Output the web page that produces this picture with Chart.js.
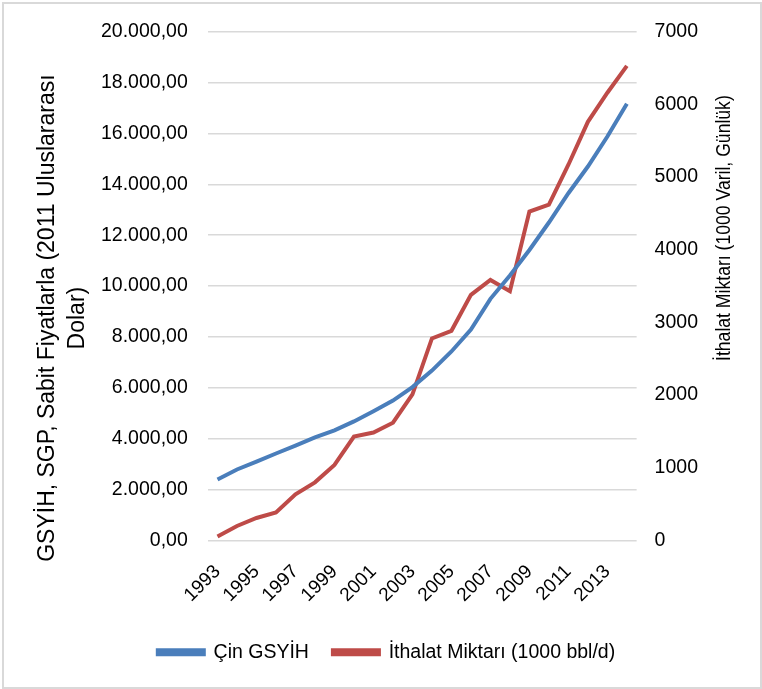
<!DOCTYPE html>
<html>
<head>
<meta charset="utf-8">
<script src="https://cdn.jsdelivr.net/npm/chart.js@4.4.0/dist/chart.umd.min.js"></script>
<style>
html, body { margin: 0; padding: 0; background: #fff; }
#wrap { position: absolute; left: 2px; top: 2px; width: 756px; height: 683px; border: 2px solid #d9d9d9; }
canvas { position: absolute; left: -4px; top: -4px; }
</style>
</head>
<body>
<div id="wrap"><canvas id="chart" width="762" height="689"></canvas></div>
<script>
const years = ['1993','1994','1995','1996','1997','1998','1999','2000','2001','2002','2003',
               '2004','2005','2006','2007','2008','2009','2010','2011','2012','2013','2014'];
const gdp = [2400, 2790, 3100, 3420, 3730, 4050, 4330, 4680, 5080, 5500, 6030,
             6680, 7430, 8290, 9500, 10420, 11420, 12500, 13650, 14700, 15880, 17170];
const imports = [55, 200, 310, 385, 635, 800, 1040, 1430, 1485, 1620, 2010,
                 2780, 2885, 3380, 3585, 3430, 4525, 4620, 5170, 5760, 6160, 6530];
const seriesNames = ['Çin GSYİH', 'İthalat Miktarı (1000 bbl/d)'];
const leftTitle = ['GSYİH, SGP, Sabit Fiyatlarla (2011 Uluslararası', 'Dolar)'];
const rightTitle = 'İthalat Miktarı (1000 Varil, Günlük)';

const FONT = 'Liberation Sans';
const LEFT_TITLE_SIZE = 23;
const RIGHT_TITLE_SIZE = 20;

// 20000 -> "20.000,00"
const fmtTR = v => String(v).replace(/\B(?=(\d{3})+(?!\d))/g, '.') + ',00';

// axis titles are drawn here so both read bottom-to-top, like the original
const axisTitles = {
    id: 'axisTitles',
    afterDraw(chart) {
        const { ctx, chartArea, scales } = chart;
        const midY = (chartArea.top + chartArea.bottom) / 2;
        ctx.save();
        ctx.fillStyle = '#000';
        ctx.textAlign = 'center';
        ctx.textBaseline = 'middle';

        // left: two lines
        ctx.font = LEFT_TITLE_SIZE + 'px "' + FONT + '"';
        const lx = scales.y.left + LEFT_TITLE_SIZE * 0.81;
        leftTitle.forEach((line, i) => {
            ctx.save();
            ctx.translate(lx + i * 30, midY + 32);
            ctx.rotate(-Math.PI / 2);
            ctx.fillText(line, 0, 0);
            ctx.restore();
        });

        // right: a bit condensed, the original font is narrower
        ctx.font = RIGHT_TITLE_SIZE + 'px "' + FONT + '"';
        ctx.translate(chartArea.right + 88, midY - 58);
        ctx.rotate(-Math.PI / 2);
        ctx.scale(0.88, 1);
        ctx.fillText(rightTitle, 0, 0);
        ctx.restore();
    }
};

new Chart(document.getElementById('chart'), {
    type: 'line',
    data: {
        labels: years,
        datasets: [{
            label: seriesNames[0],
            data: gdp,
            borderColor: '#4a7ebb',
            backgroundColor: '#4a7ebb',
            borderWidth: 4,
            pointRadius: 0,
            tension: 0,
            yAxisID: 'y'
        }, {
            label: seriesNames[1],
            data: imports,
            borderColor: '#be4b48',
            backgroundColor: '#be4b48',
            borderWidth: 4,
            pointRadius: 0,
            tension: 0,
            yAxisID: 'y1'
        }]
    },
    options: {
        responsive: false,
        animation: false,
        layout: { padding: { left: 29, right: 18, top: 25, bottom: 17 } },
        plugins: {
            tooltip: { enabled: false },
            legend: {
                position: 'bottom',
                labels: {
                    boxWidth: 46,
                    boxHeight: 4,
                    padding: 24,
                    color: '#000',
                    font: { family: FONT, size: 19.5 }
                }
            }
        },
        scales: {
            x: {
                offset: true,
                grid: { display: false },
                border: { display: false },
                ticks: {
                    autoSkip: false,
                    minRotation: 45,
                    maxRotation: 45,
                    padding: 12,
                    color: '#000',
                    font: { family: FONT, size: 19 },
                    callback: (v, i) => (i % 2 === 0 ? years[i] : '')
                }
            },
            y: {
                position: 'left',
                min: 0,
                max: 20000,
                grid: { color: '#d9d9d9', lineWidth: 1.5, drawTicks: false },
                border: { display: false },
                ticks: {
                    stepSize: 2000,
                    padding: 20,
                    color: '#000',
                    font: { family: FONT, size: 19.5 },
                    callback: v => fmtTR(v)
                },
                title: {
                    display: true,
                    text: leftTitle,
                    color: 'rgba(0,0,0,0)',
                    font: { family: FONT, size: LEFT_TITLE_SIZE },
                    padding: { top: 0, bottom: 4 }
                }
            },
            y1: {
                position: 'right',
                min: 0,
                max: 7000,
                grid: { display: false, drawTicks: false },
                border: { display: false },
                ticks: {
                    stepSize: 1000,
                    padding: 18,
                    color: '#000',
                    font: { family: FONT, size: 19.5 },
                    callback: v => String(v)
                },
                title: {
                    display: true,
                    text: rightTitle,
                    color: 'rgba(0,0,0,0)',
                    font: { family: FONT, size: RIGHT_TITLE_SIZE },
                    padding: { top: 4, bottom: 0 }
                }
            }
        }
    },
    plugins: [axisTitles]
});
</script>
</body>
</html>
